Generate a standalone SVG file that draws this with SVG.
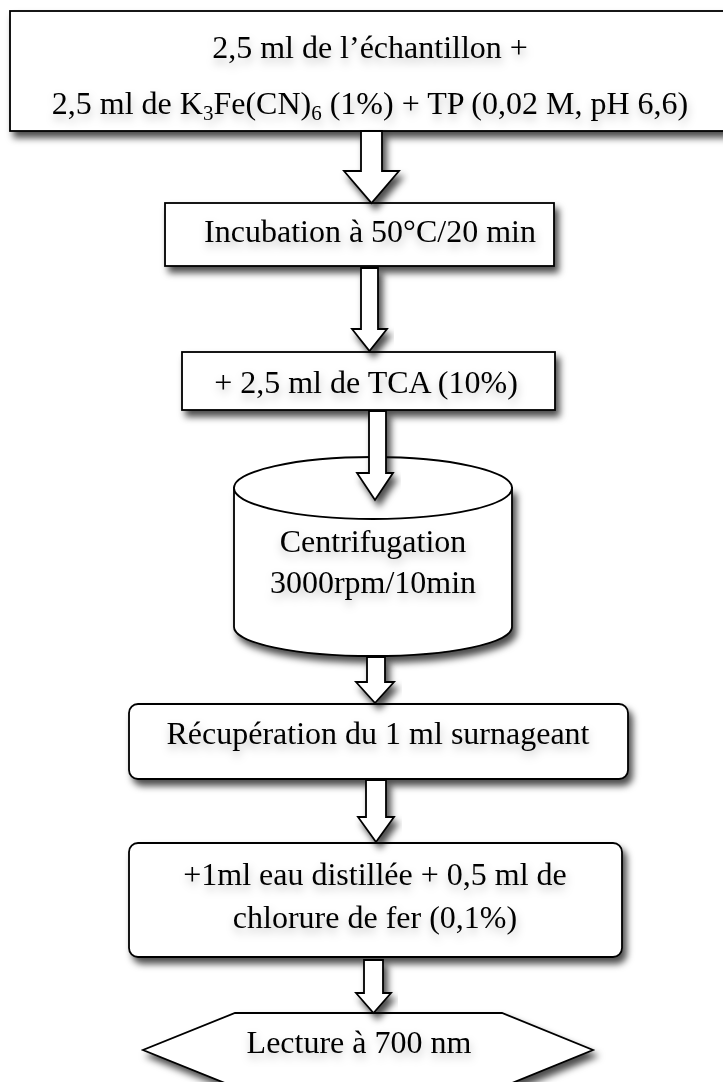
<svg xmlns="http://www.w3.org/2000/svg" width="723" height="1082" viewBox="0 0 723 1082">
<defs>
<style>
.box{fill:#fff;stroke:#000;stroke-width:1.8;filter:url(#sh)}
.arr{fill:#fff;stroke:#000;stroke-width:1.8;stroke-linejoin:miter;filter:url(#sh)}
.t{font-family:"Liberation Serif","Times New Roman",serif;font-size:32px;fill:#000;text-anchor:middle;filter:url(#ts)}
</style>
<filter id="sh" x="-10%" y="-10%" width="130%" height="150%">
<feDropShadow dx="4" dy="6" stdDeviation="3.5" flood-color="#000" flood-opacity="0.7"/>
</filter>
<filter id="ts" x="-10%" y="-30%" width="120%" height="180%">
<feDropShadow dx="1" dy="5" stdDeviation="4" flood-color="#000" flood-opacity="0.25"/>
</filter>
</defs>
<rect width="723" height="1082" fill="#fff"/>

<g id="n1">
<rect class="box" x="10" y="11" width="716" height="120"/>
<text class="t" x="370" y="58">2,5 ml de l’échantillon +</text>
<text class="t" x="370" y="114">2,5 ml de K<tspan font-size="21" dy="6">3</tspan><tspan dy="-6">Fe(CN)</tspan><tspan font-size="21" dy="6">6</tspan><tspan dy="-6"> (1%) + TP (0,02 M, pH 6,6)</tspan></text>
</g>

<g id="n2">
<rect class="box" x="165" y="203" width="389" height="63"/>
<text class="t" x="370" y="242">Incubation à 50°C/20 min</text>
</g>

<g id="n3">
<rect class="box" x="182" y="352" width="373" height="58"/>
<text class="t" x="366" y="393">+ 2,5 ml de TCA (10%)</text>
</g>

<g id="n4">
<path class="box" d="M234,488 V627 A139,29 0 0 0 512,627 V488 Z"/>
<ellipse cx="373" cy="488" rx="139" ry="31" fill="#fff" stroke="#000" stroke-width="1.8"/>
<text class="t" x="373" y="552">Centrifugation</text>
<text class="t" x="373" y="593">3000rpm/10min</text>
</g>

<g id="n5">
<rect class="box" x="129" y="704" width="499" height="75" rx="9"/>
<text class="t" x="378" y="744">Récupération du 1 ml surnageant</text>
</g>

<g id="n6">
<rect class="box" x="129" y="843" width="493" height="114" rx="9"/>
<text class="t" x="375" y="885">+1ml eau distillée + 0,5 ml de</text>
<text class="t" x="375" y="928">chlorure de fer (0,1%)</text>
</g>

<g id="n7">
<polygon class="box" points="235,1013 502,1013 593,1050 502,1087 235,1087 143,1050"/>
<text class="t" x="359" y="1053">Lecture à 700 nm</text>
</g>

<g id="connectors">
<path class="arr" d="M361,131 H382 V171 H399 L371.5,203 L344,171 H361 Z"/>
<path class="arr" d="M361,268 H378 V329 H387 L369.5,351 L352,329 H361 Z"/>
<path class="arr" d="M369,411 H386 V473 H393 L375,500 L357,473 H369 Z"/>
<path class="arr" d="M367,657 H385 V682 H394 L375,703 L356,682 H367 Z"/>
<path class="arr" d="M366,780 H386 V817 H394 L376,842 L358,817 H366 Z"/>
<path class="arr" d="M364,960 H383 V993 H391 L373.5,1013 L356,993 H364 Z"/>
</g>
</svg>
